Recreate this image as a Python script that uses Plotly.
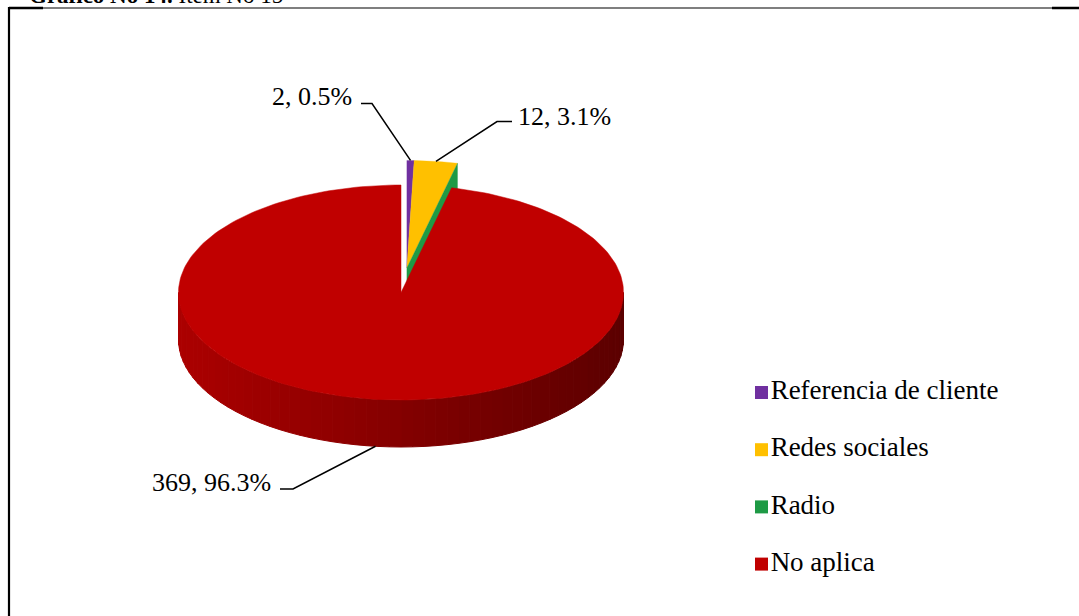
import numpy as np
import plotly.graph_objects as go

# Survey answers: how the respondent heard about the service
categories = ["Referencia de cliente", "Redes sociales", "Radio", "No aplica"]
counts = [2, 12, 0, 369]
colors = ["#7030A0", "#FFC000", "#1E9A45", "#C00000"]
exploded = [True, True, True, False]

W, H = 1079, 616
FONT = "Times New Roman, Liberation Serif, serif"

# 3-D pie geometry (pixel units on the hidden axes)
CX, CY = 401.0, 292.5
RX, RY = 222.5, 107.5
DEPTH = 47.0
EXPLODE = 0.23


def rim(theta, off=(0.0, 0.0), dz=0.0):
    t = np.radians(theta)
    return CX + RX * np.sin(t) + off[0], CY - RY * np.cos(t) + off[1] + dz


total = sum(counts)
spans = [360.0 * c / total for c in counts]
starts = np.concatenate([[0.0], np.cumsum(spans)[:-1]])

# the exploded slices move out together along their common bisector
grp = [k for k in range(len(counts)) if exploded[k]]
g0 = starts[grp[0]]
g1 = starts[grp[-1]] + spans[grp[-1]]
gm = np.radians((g0 + g1) / 2.0)
OFF = (EXPLODE * RX * np.sin(gm), -EXPLODE * RY * np.cos(gm))

fig = go.Figure()


def poly(xs, ys, color, lw=0.6):
    fig.add_trace(go.Scatter(
        x=list(xs) + [xs[0]], y=list(ys) + [ys[0]], mode="lines",
        fill="toself", fillcolor=color, line=dict(color=color, width=lw),
        hoverinfo="skip", showlegend=False))


anchors = {}

# exploded slices at the back of the pie
for i in grp:
    a0, sp = starts[i], spans[i]
    if sp > 0:
        th = np.linspace(a0, a0 + sp, 20)
        ax, ay = rim(th, OFF)
        xs = [CX + OFF[0]] + list(ax)
        ys = [CY + OFF[1]] + list(ay)
        poly(xs, ys, colors[i], lw=0.3)
        anchors[i] = rim(a0 + sp / 2.0, OFF)
    else:
        # a zero-count slice only shows its radial side wall
        ex, ey = rim(a0, OFF)
        cx, cy = CX + OFF[0], CY + OFF[1]
        poly([cx, ex, ex, cx], [cy, ey, ey + DEPTH, cy + DEPTH], colors[i], lw=0.3)

# big slice: curved front wall with shading, then the top face
i = 3
a0, sp = starts[i], spans[i]
edges = np.linspace(90.0, 270.0, 61)
dark = np.array([92, 0, 0])
light = np.array([172, 0, 0])
for k in range(len(edges) - 1):
    th = np.linspace(edges[k], edges[k + 1], 4)
    tx, ty = rim(th)
    bx, by = rim(th[::-1], dz=DEPTH)
    f = (np.mean(tx) - (CX - RX)) / (2 * RX)
    c = (light + (dark - light) * f).astype(int)
    col = "rgb(%d,%d,%d)" % tuple(c)
    poly(list(tx) + list(bx), list(ty) + list(by), col, lw=1.0)

th = np.linspace(a0, a0 + sp, 240)
ax, ay = rim(th)
poly([CX] + list(ax), [CY] + list(ay), colors[i], lw=0.5)
anchors[i] = rim(a0 + sp / 2.0, dz=DEPTH)

# data labels with elbow leader lines
label_layout = {
    0: dict(tx=354, ty=96.5, xanchor="right", stub=[(361, 103.5), (372, 103.5)]),
    1: dict(tx=516, ty=116.5, xanchor="left", stub=[(512, 121.5), (497, 121.5)]),
    3: dict(tx=273, ty=482, xanchor="right", stub=[(280, 489), (293, 489)]),
}
for i, lay in label_layout.items():
    pct = 100.0 * counts[i] / total
    fig.add_annotation(x=lay["tx"], y=lay["ty"], xref="x", yref="y",
                       text="%d, %.1f%%" % (counts[i], pct), showarrow=False,
                       xanchor=lay["xanchor"], yanchor="middle",
                       font=dict(family=FONT, size=26, color="black"))
    px = [p[0] for p in lay["stub"]] + [anchors[i][0]]
    py = [p[1] for p in lay["stub"]] + [anchors[i][1]]
    fig.add_trace(go.Scatter(x=px, y=py, mode="lines",
                             line=dict(color="black", width=1.5),
                             hoverinfo="skip", showlegend=False))

# legend: colour key squares with the category names
LEG_X, LEG_Y0, LEG_STEP = 761.5, 392.5, 57.2
fig.add_trace(go.Scatter(
    x=[LEG_X] * len(categories),
    y=[LEG_Y0 + k * LEG_STEP for k in range(len(categories))],
    mode="markers+text", text=categories, textposition="middle right",
    textfont=dict(family=FONT, size=27, color="black"),
    marker=dict(symbol="square", size=13, color=colors, line=dict(width=0)),
    hoverinfo="skip", showlegend=False))

# page frame lines and the caption cut by the top edge
frame = [
    dict(x0=9, x1=W, y0=8, y1=8, w=1.2),
    dict(x0=9, x1=43, y0=8, y1=8, w=2.5),
    dict(x0=1052, x1=W, y0=8, y1=8, w=2.5),
    dict(x0=9, x1=9, y0=7, y1=H, w=2.2),
]
for s in frame:
    fig.add_shape(type="line", xref="x", yref="y", x0=s["x0"], x1=s["x1"],
                  y0=s["y0"], y1=s["y1"], line=dict(color="black", width=s["w"]))

fig.add_annotation(x=27, y=10.5, xref="x", yref="y", xanchor="left", yanchor="bottom",
                   text="<b>Gráfico No 14.</b> Ítem No 15", showarrow=False,
                   font=dict(family=FONT, size=23, color="black"))

fig.update_layout(
    width=W, height=H, margin=dict(l=0, r=0, t=0, b=0),
    paper_bgcolor="white", plot_bgcolor="white",
    xaxis=dict(range=[0, W], visible=False, fixedrange=True),
    yaxis=dict(range=[H, 0], visible=False, fixedrange=True),
    showlegend=False,
)

fig.write_html("out.html")
